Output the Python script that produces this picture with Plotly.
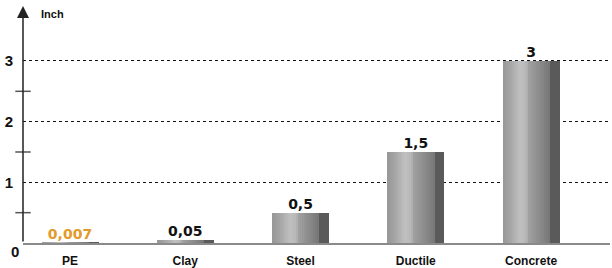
import plotly.graph_objects as go

categories = ["PE", "Clay", "Steel", "Ductile", "Concrete"]
values = [0.007, 0.05, 0.5, 1.5, 3]
value_labels = ["0,007", "0,05", "0,5", "1,5", "3"]
label_colors = ["#E39A2B", "#111111", "#111111", "#111111", "#111111"]
y_ticks = [1, 2, 3]
y_minor = [0.5, 1.5, 2.5]

x = list(range(len(categories)))
XMIN, XMAX = -0.408, 4.685
YTOP = 3.906

# gradient stops (position across front face, grey level) for a cylindrical look
stops = [(0.0, 150), (0.12, 160), (0.38, 192), (0.5, 184), (0.56, 160),
         (0.8, 138), (1.0, 118)]


def grey_at(t):
    for (p0, g0), (p1, g1) in zip(stops[:-1], stops[1:]):
        if p0 <= t <= p1:
            g = g0 + (g1 - g0) * (t - p0) / (p1 - p0)
            g = int(round(g))
            return "rgb(%d,%d,%d)" % (g, g, g)
    g = stops[-1][1]
    return "rgb(%d,%d,%d)" % (g, g, g)


n_strips = 24
front_cols = [grey_at((i + 0.5) / n_strips) for i in range(n_strips)]
side_col = "#5a5a5a"
front_w = 0.41
side_w = 0.085
total_w = front_w + side_w

fig = go.Figure()
sw = front_w / n_strips
for i, c in enumerate(front_cols):
    fig.add_trace(go.Bar(x=x, y=values, width=sw * 1.15, offset=-total_w / 2 + i * sw,
                         marker=dict(color=c, line=dict(width=0)), hoverinfo="skip",
                         showlegend=False))
fig.add_trace(go.Bar(x=x, y=values, width=side_w, offset=-total_w / 2 + front_w,
                     marker=dict(color=side_col, line=dict(width=0)), hoverinfo="skip",
                     showlegend=False))

# value labels
fig.add_trace(go.Scatter(x=x, y=values, mode="text", text=value_labels,
                         textposition="top center",
                         textfont=dict(family="DejaVu Sans", size=14, color=label_colors,
                                       weight="bold"),
                         cliponaxis=False, showlegend=False, hoverinfo="skip"))

# minor ticks crossing the y axis
fig.add_trace(go.Scatter(x=[XMIN] * len(y_minor), y=y_minor, mode="markers",
                         marker=dict(symbol="line-ew-open", size=11, color="#555555",
                                     line=dict(color="#555555", width=1.5)),
                         cliponaxis=False, showlegend=False, hoverinfo="skip"))

fig.update_layout(
    width=612, height=268,
    margin=dict(l=23, r=2, t=6, b=25, autoexpand=False),
    paper_bgcolor="white", plot_bgcolor="white",
    barmode="overlay", bargap=0,
    xaxis=dict(range=[XMIN, XMAX], tickvals=x, ticktext=categories,
               showgrid=False, zeroline=False, showline=True, automargin=False,
               linecolor="#8a8a8a", linewidth=2, ticks="",
               ticklabelstandoff=6,
               tickfont=dict(family="Liberation Sans", size=12, color="#111111",
                             weight="bold")),
    yaxis=dict(range=[0, YTOP], tickvals=y_ticks, ticktext=[str(t) for t in y_ticks],
               showgrid=True, gridcolor="#111111", gridwidth=1, griddash="3px,3px",
               zeroline=False, showline=False, ticks="", ticklabelstandoff=9,
               automargin=False,
               tickfont=dict(family="Liberation Sans", size=15, color="#111111",
                             weight="bold")),
    annotations=[
        dict(x=XMIN, y=YTOP, ax=XMIN, ay=0, xref="x", yref="y", axref="x", ayref="y",
             showarrow=True, arrowhead=2, arrowsize=1.6, arrowwidth=1.5,
             arrowcolor="#222222", text=""),
        dict(x=0, y=1, xref="paper", yref="paper", xanchor="left", yanchor="middle",
             xshift=16, yshift=-8, text="Inch", showarrow=False,
             font=dict(family="Liberation Sans", size=11, color="#111111", weight="bold")),
        dict(x=0, y=0, xref="paper", yref="paper", xanchor="center", yanchor="middle",
             xshift=-8, yshift=-8, text="0", showarrow=False,
             font=dict(family="Liberation Sans", size=15, color="#111111", weight="bold")),
    ],
)

fig.write_html("out.html", config={"displayModeBar": False},
               post_script="document.body.style.margin='0';document.body.style.overflow='hidden';")
